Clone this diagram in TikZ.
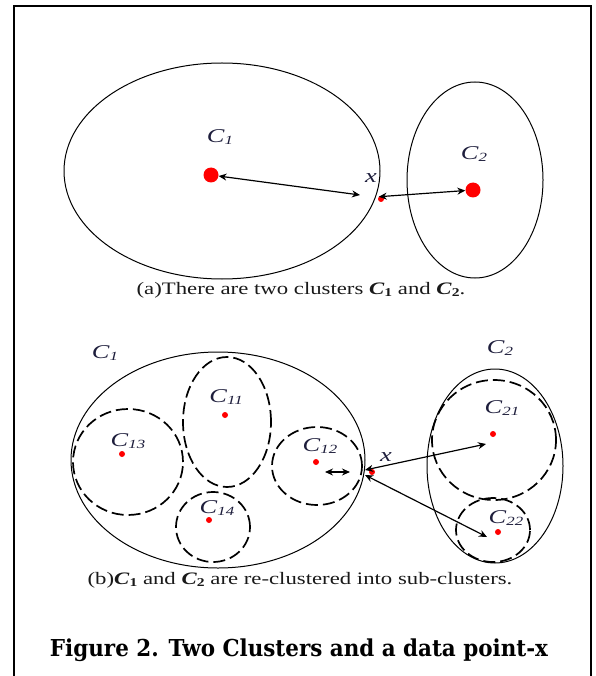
\documentclass[tikz,border=0pt]{standalone}
\usepackage{fontspec}
\setmainfont{Liberation Serif}
\newfontfamily\capfont{DejaVu Serif}
\usetikzlibrary{arrows.meta,shapes.geometric}
\definecolor{labcol}{RGB}{30,30,60}
\definecolor{txtcol}{RGB}{25,25,25}
\newcommand{\clab}[2]{\scalebox{1.35}[1]{\textit{#1}\raisebox{-0.3ex}{\fontsize{12.5}{12.5}\selectfont\textit{#2}}}}
\newcommand{\xlab}{\scalebox{1.35}[1]{\textit{x}}}
\newcommand{\bclab}[2]{\textbf{\textit{#1}\raisebox{-0.3ex}{\fontsize{12}{12}\selectfont\upshape\bfseries #2}}}
\begin{document}
\begin{tikzpicture}[x=1pt,y=-1pt,
  lab/.style={text=labcol,font=\fontsize{19.5}{19.5}\selectfont,inner sep=0pt},
  clus/.style={draw,line width=1pt,ellipse,inner sep=0pt},
  subclus/.style={draw,line width=1.7pt,dash pattern=on 12pt off 5pt,ellipse,inner sep=0pt},
  dotbig/.style={circle,fill=red,inner sep=0pt,minimum size=15pt},
  dotsmall/.style={circle,fill=red,inner sep=0pt,minimum size=6pt},
  dist/.style={line width=1.2pt,{Stealth[length=8pt,width=7pt]}-{Stealth[length=8pt,width=7pt]}},
  captext/.style={text=txtcol,font=\fontsize{17.5}{17.5}\selectfont,inner sep=0pt}]
\useasboundingbox (0,0) rectangle (595,676);
% frame
\coordinate (fbl) at (13.5,700);
\coordinate (ftl) at (13.5,6);
\coordinate (ftr) at (591,6);
\coordinate (fbr) at (591,700);
\draw[line width=2pt] (fbl) -- (ftl) -- (ftr) -- (fbr);

% ---------- (a) ----------
\node[clus,minimum width=316pt,minimum height=216pt] (E1) at (222,171) {};
\node[clus,minimum width=136pt,minimum height=196pt] (E2) at (475,180) {};
\node[dotbig] (c1) at (211,175) {};
\node[dotbig] (c2) at (473,190) {};
\node[dotsmall] (xa) at (381,199) {};
\node[lab] (l1) at (220,137) {\clab{C}{1}};
\node[lab] (l2) at (474,154) {\clab{C}{2}};
\node[lab] (lx) at (371,178) {\xlab};
\coordinate (a1e) at (360,195);
\draw[dist] (c1) -- (a1e);
\draw[dist] (xa.north west) -- (c2);
\node[captext] (capa) at (301,290) {\scalebox{1.3}[1]{(a)There are two clusters \bclab{C}{1} and \bclab{C}{2}.}};

% ---------- (b) ----------
\node[clus,minimum width=294pt,minimum height=216pt] (B1) at (218,460) {};
\node[clus,minimum width=136pt,minimum height=194pt] (B2) at (495,466) {};
\node[subclus,minimum width=88pt,minimum height=130pt] (S11) at (227,422) {};
\node[subclus,minimum width=110pt,minimum height=106pt] (S13) at (128,462) {};
\node[subclus,minimum width=74pt,minimum height=70pt] (S14) at (213,527) {};
\node[subclus,minimum width=90pt,minimum height=78pt] (S12) at (317,466) {};
\node[subclus,minimum width=124pt,minimum height=120pt] (S21) at (494,440) {};
\node[subclus,minimum width=74pt,minimum height=64pt] (S22) at (493,530) {};
\node[dotsmall] (d11) at (225,415) {};
\node[dotsmall] (d13) at (122,454) {};
\node[dotsmall] (d14) at (209,520) {};
\node[dotsmall] (d12) at (316,462) {};
\node[dotsmall] (d21) at (493,434) {};
\node[dotsmall] (d22) at (498,532) {};
\node[dotsmall] (xb) at (372,472) {};
\node[lab] (m1) at (105,353) {\clab{C}{1}};
\node[lab] (m2) at (500,348) {\clab{C}{2}};
\node[lab] (m11) at (226,397) {\clab{C}{11}};
\node[lab] (m13) at (128,441) {\clab{C}{13}};
\node[lab] (m14) at (217,508) {\clab{C}{14}};
\node[lab] (m12) at (320,446) {\clab{C}{12}};
\node[lab] (m21) at (502,408) {\clab{C}{21}};
\node[lab] (m22) at (506,518) {\clab{C}{22}};
\node[lab] (mx) at (386,457) {\xlab};
\coordinate (s1) at (325,472);
\coordinate (s2) at (350,472);
\draw[dist] (s1) -- (s2);
\coordinate (e21) at (486,444);
\coordinate (e22) at (487,537);
\coordinate (xs1) at (365,470);
\coordinate (xs2) at (365,475);
\draw[dist] (xs1) -- (e21);
\draw[dist] (xs2) -- (e22);
\node[captext] (capb) at (300,580) {\scalebox{1.3}[1]{(b)\bclab{C}{1} and \bclab{C}{2} are re-clustered into sub-clusters.}};

% ---------- figure caption ----------
\node[inner sep=0pt] (fig) at (299,650) {\resizebox{498pt}{17.7pt}{\capfont\bfseries Figure 2. Two Clusters and a data point-x}};
\end{tikzpicture}
\end{document}
